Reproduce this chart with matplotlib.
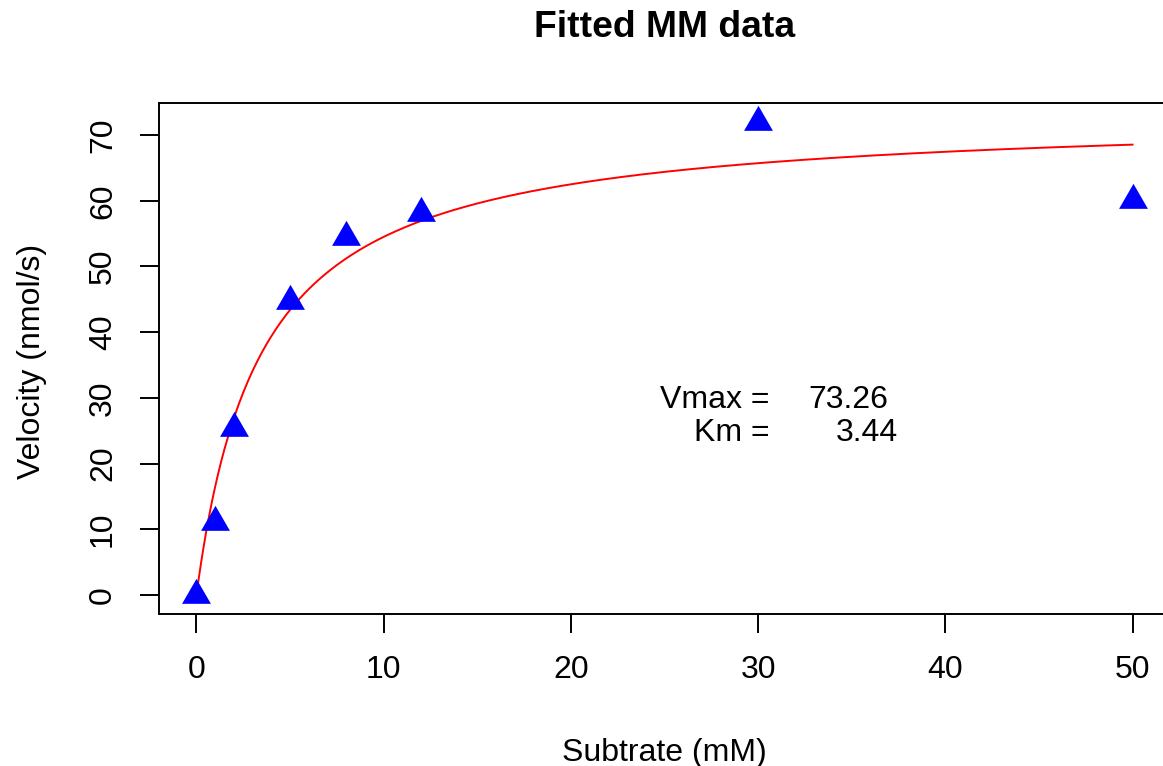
import numpy as np
import matplotlib
matplotlib.use("Agg")
import matplotlib.pyplot as plt
from matplotlib.path import Path

substrate = [0, 1, 2, 5, 8, 12, 30, 50]
velocity = [0.0, 11.1, 25.4, 44.8, 54.5, 58.2, 72.0, 60.1]
vmax = 73.26
km = 3.44
xticks = [0, 10, 20, 30, 40, 50]
yticks = [0, 10, 20, 30, 40, 50, 60, 70]

plt.rcParams['font.family'] = ['Liberation Sans', 'DejaVu Sans']

W, H = 1163, 766
dpi = 100
FS = 23
fig = plt.figure(figsize=(W / dpi, H / dpi), dpi=dpi)
ax = fig.add_axes([159 / W, (H - 614) / H, (1170 - 159) / W, (614 - 103) / H])

# equilateral triangle with centroid at the origin (like R pch=17)
tri = Path([(0, 1), (-0.8660254, -0.5), (0.8660254, -0.5), (0, 1)],
           [Path.MOVETO, Path.LINETO, Path.LINETO, Path.CLOSEPOLY])

ax.plot(substrate, velocity, linestyle='none', marker=tri, markersize=24,
        color='#0000FF', markeredgewidth=0, zorder=3)

s = np.linspace(min(substrate), max(substrate), 400)
ax.plot(s, vmax * s / (km + s), color='#FF0000', lw=1.4, zorder=2)

ax.set_xlim(-2, 52)
ax.set_ylim(-2.88, 74.88)
ax.set_xticks(xticks)
ax.set_yticks(yticks)
ax.set_xticklabels([str(t) for t in xticks])
ax.set_yticklabels([str(t) for t in yticks], rotation=90, va='center')

for sp in ax.spines.values():
    sp.set_linewidth(1.4)
ax.tick_params(axis='both', length=13.5, width=1.4, labelsize=FS, direction='out')
ax.tick_params(axis='x', pad=16)
ax.tick_params(axis='y', pad=16)

ax.text(30.6, 28.5, 'Vmax =', ha='right', va='baseline', fontsize=FS)
ax.text(36.97, 28.5, '73.26', ha='right', va='baseline', fontsize=FS)
ax.text(30.6, 23.42, 'Km =', ha='right', va='baseline', fontsize=FS)
ax.text(37.5, 23.42, '3.44', ha='right', va='baseline', fontsize=FS)

fig.text(664.5 / W, (H - 37) / H, 'Fitted MM data', ha='center', va='baseline',
         fontsize=26.8, fontweight='bold')
fig.text(664.5 / W, (H - 761) / H, 'Subtrate (mM)', ha='center', va='baseline',
         fontsize=FS)
fig.text(40 / W, (H - 361) / H, 'Velocity (nmol/s)', ha='center', va='baseline',
         rotation=90, fontsize=FS, rotation_mode='anchor')

fig.savefig('out.png', dpi=dpi)
